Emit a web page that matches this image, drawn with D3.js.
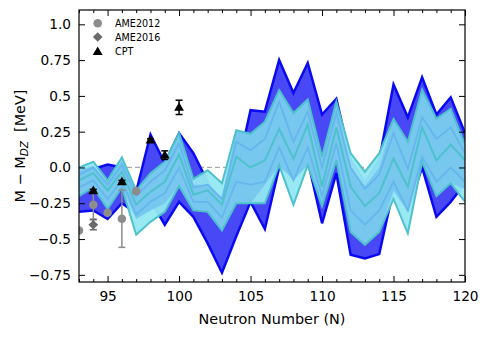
<!DOCTYPE html>
<html><head><meta charset="utf-8">
<script src="https://cdn.jsdelivr.net/npm/d3@7"></script>
<style>body{margin:0;background:#fff}svg{display:block}text{font-family:"DejaVu Sans",sans-serif}</style>
</head><body><svg id="c" width="488" height="337"></svg>
<script>
const N = [93,94,95,96,97,98,99,100,101,102,103,104,105,106,107,108,109,110,111,112,113,114,115,116,117,118,119,120];
const blueUpper = [-0.02,-0.01,0.02,0.0,-0.17,0.23,0.03,0.24,0.10,-0.10,-0.30,-0.05,0.40,0.39,0.75,0.52,0.73,0.37,0.48,0.05,-0.10,0.05,0.58,0.35,0.63,0.37,0.49,0.24];
const blueLower = [-0.31,-0.30,-0.36,-0.25,-0.32,-0.23,-0.40,-0.24,-0.345,-0.53,-0.735,-0.48,-0.24,-0.43,0.0,-0.05,0.05,-0.39,-0.04,-0.61,-0.635,-0.605,-0.15,-0.30,0.0,-0.345,-0.24,-0.11];
const cyanUpper = [0.0,0.04,-0.09,0.07,-0.16,-0.04,0.04,0.24,-0.08,-0.02,-0.11,0.26,0.235,0.32,0.54,0.38,0.475,0.075,0.46,0.10,-0.03,0.10,0.34,0.18,0.545,0.34,0.41,0.16];
const cyanLower = [-0.20,-0.14,-0.29,-0.14,-0.47,-0.38,-0.31,-0.13,-0.30,-0.31,-0.44,-0.25,-0.25,-0.25,0.016,-0.26,0.016,-0.27,0.05,-0.45,-0.54,-0.45,-0.22,-0.46,0.04,-0.20,-0.11,-0.24];
const skyUpper = [-0.02,0.01,-0.10,0.05,-0.16,-0.04,0.04,0.24,-0.12,-0.12,-0.22,0.26,0.235,0.32,0.54,0.38,0.475,0.075,0.46,0.0,-0.13,0.0,0.34,0.18,0.545,0.34,0.41,0.16];
const skyLower = [-0.20,-0.14,-0.29,-0.14,-0.36,-0.30,-0.25,-0.13,-0.30,-0.31,-0.44,-0.25,-0.25,-0.12,0.016,-0.09,0.016,-0.27,0.05,-0.45,-0.54,-0.45,-0.16,-0.30,0.04,-0.20,-0.11,-0.15];
const cyanMid = [-0.09,-0.04,-0.16,-0.03,-0.26,-0.17,-0.10,0.09,-0.19,-0.16,-0.26,0.075,0.0,0.05,0.27,0.06,0.30,-0.135,0.28,-0.135,-0.27,-0.18,0.063,-0.135,0.28,0.05,0.16,0.05];
const innerA = [-0.05,0.0,-0.12,0.02,-0.20,-0.10,-0.02,0.17,-0.14,-0.12,-0.22,0.18,0.12,0.20,0.46,0.18,0.39,0.0,0.38,0.0,-0.15,-0.05,0.24,-0.01,0.35,0.20,0.28,0.10];
const innerB = [-0.14,-0.09,-0.22,-0.09,-0.33,-0.24,-0.18,0.0,-0.24,-0.24,-0.35,-0.10,-0.12,-0.10,0.14,-0.09,0.14,-0.20,0.17,-0.30,-0.40,-0.30,-0.10,-0.30,0.075,-0.10,0.0,-0.10];

const ame12N = [93,94,95,96,97];
const ame12V = [-0.44,-0.26,-0.316,-0.358,-0.165];
const ame12E = [0.0,0.10,0.0,0.20,0.0];
const ame16N = [94];
const ame16V = [-0.40];
const ame16E = [0.035];
const cptN = [94,96,98,99,100];
const cptV = [-0.163,-0.10,0.19,0.086,0.42];
const cptE = [0.01,0.01,0.01,0.03,0.05];

const xTicks = [95,100,105,110,115,120];
const yTicks = [1.0,0.75,0.5,0.25,0.0,-0.25,-0.5,-0.75];
const yTickLabels = ["1.0","0.75","0.5","0.25","0.0","\u22120.25","\u22120.5","\u22120.75"];

const L=79,T=10,R=465,B=282;
const svg=d3.select("#c");
const x=d3.scaleLinear().domain([93,120]).range([L,R]);
const y=d3.scaleLinear().domain([-0.8,1.1]).range([B,T]);

svg.append("clipPath").attr("id","clip").append("rect").attr("x",L).attr("y",T).attr("width",R-L).attr("height",B-T);
const g=svg.append("g").attr("clip-path","url(#clip)");

g.append("line").attr("x1",L).attr("x2",R).attr("y1",y(0)).attr("y2",y(0))
 .attr("stroke","#aaa").attr("stroke-width",1.3).attr("stroke-dasharray","5,3");

const area=(up,lo)=>d3.area().x((d,i)=>x(N[i])).y0((d,i)=>y(lo[i])).y1((d,i)=>y(up[i]))(N);
const line=(arr)=>d3.line().x((d,i)=>x(N[i])).y((d,i)=>y(arr[i]))(N);

g.append("path").attr("d",area(blueUpper,blueLower)).attr("fill","#4848f6");
g.append("path").attr("d",line(blueUpper)).attr("fill","none").attr("stroke","#0a0af2").attr("stroke-width",2.5);
g.append("path").attr("d",line(blueLower)).attr("fill","none").attr("stroke","#0a0af2").attr("stroke-width",2.5);

g.append("path").attr("d",area(cyanUpper,cyanLower)).attr("fill","#94e8f2").attr("opacity",0.95);
g.append("path").attr("d",area(skyUpper,skyLower)).attr("fill","#76c6ee").attr("opacity",0.97);
g.append("path").attr("d",line(innerA)).attr("fill","none").attr("stroke","#66b6ee").attr("stroke-width",1.8);
g.append("path").attr("d",line(innerB)).attr("fill","none").attr("stroke","#66b6ee").attr("stroke-width",1.8);
[cyanUpper,cyanLower,cyanMid].forEach(a=>{
  g.append("path").attr("d",line(a)).attr("fill","none").attr("stroke","#4ec2cc").attr("stroke-width",2);
});

function ebar(nx,vv,ee,col){
  nx.forEach((n,i)=>{
    if(ee[i]<=0) return;
    const cx=x(n);
    g.append("line").attr("x1",cx).attr("x2",cx).attr("y1",y(vv[i]-ee[i])).attr("y2",y(vv[i]+ee[i])).attr("stroke",col).attr("stroke-width",1.5);
    [vv[i]-ee[i],vv[i]+ee[i]].forEach(v=>g.append("line").attr("x1",cx-3.5).attr("x2",cx+3.5).attr("y1",y(v)).attr("y2",y(v)).attr("stroke",col).attr("stroke-width",1.5));
  });
}
ebar(ame12N,ame12V,ame12E,"#8c8c8c");
g.selectAll(".a12").data(ame12N).enter().append("circle").attr("cx",d=>x(d)).attr("cy",(d,i)=>y(ame12V[i])).attr("r",4.3).attr("fill","#8c8c8c");
ebar(ame16N,ame16V,ame16E,"#6a6a6a");
const dia=d3.symbol().type(d3.symbolDiamond2).size(60);
g.selectAll(".a16").data(ame16N).enter().append("path").attr("d",dia).attr("transform",(d,i)=>`translate(${x(d)},${y(ame16V[i])})`).attr("fill","#6a6a6a");
ebar(cptN,cptV,cptE,"#000");
const tri=d3.symbol().type(d3.symbolTriangle).size(42);
g.selectAll(".cpt").data(cptN).enter().append("path").attr("d",tri).attr("transform",(d,i)=>`translate(${x(d)},${y(cptV[i])+0.5})`).attr("fill","#000");

svg.append("rect").attr("x",L).attr("y",T).attr("width",R-L).attr("height",B-T).attr("fill","none").attr("stroke","#000").attr("stroke-width",1.2);

const xAxisB=d3.axisBottom(x).tickValues(xTicks).tickSizeInner(-6).tickSizeOuter(0).tickPadding(9).tickFormat(d3.format("d"));
const gb=svg.append("g").attr("transform",`translate(0,${B})`).call(xAxisB);
const xAxisT=d3.axisTop(x).tickValues(xTicks).tickSizeInner(-6).tickSizeOuter(0).tickFormat("");
const gt=svg.append("g").attr("transform",`translate(0,${T})`).call(xAxisT);
const minor=d3.range(93,121).filter(v=>v%5!==0);
const gbm=svg.append("g").attr("transform",`translate(0,${B})`).call(d3.axisBottom(x).tickValues(minor).tickSizeInner(-3).tickSizeOuter(0).tickFormat(""));
const gtm=svg.append("g").attr("transform",`translate(0,${T})`).call(d3.axisTop(x).tickValues(minor).tickSizeInner(-3).tickSizeOuter(0).tickFormat(""));
const gl=svg.append("g").attr("transform",`translate(${L},0)`).call(d3.axisLeft(y).tickValues(yTicks).tickSizeInner(-6).tickSizeOuter(0).tickPadding(8).tickFormat((d,i)=>yTickLabels[i]));
const gr=svg.append("g").attr("transform",`translate(${R},0)`).call(d3.axisRight(y).tickValues(yTicks).tickSizeInner(-6).tickSizeOuter(0).tickFormat(""));
[gb,gt,gbm,gtm,gl,gr].forEach(a=>{a.select(".domain").remove();a.selectAll("line").attr("stroke","#000").attr("stroke-width",1);a.selectAll("text").attr("font-size","13.7px").attr("fill","#000").attr("font-family","DejaVu Sans");});

svg.append("text").attr("x",272).attr("y",323.5).attr("text-anchor","middle").attr("font-size","14.4px").text("Neutron Number (N)");
const yl=svg.append("text").attr("transform","translate(25,146) rotate(-90)").attr("text-anchor","middle").attr("font-size","14.4px").attr("xml:space","preserve");
yl.append("tspan").text("M \u2212 M");
yl.append("tspan").attr("font-size","10.5px").attr("font-style","italic").attr("dy",3).text("DZ");
yl.append("tspan").attr("dy",-3).text("  [MeV]");

const legLabels=["AME2012","AME2016","CPT"];
const legY=[23.3,37,51.7];
svg.append("circle").attr("cx",97.7).attr("cy",legY[0]).attr("r",4.3).attr("fill","#8c8c8c");
svg.append("path").attr("d",dia).attr("transform",`translate(97.7,${legY[1]})`).attr("fill","#6a6a6a");
svg.append("path").attr("d",tri).attr("transform",`translate(97.7,${legY[2]+0.5})`).attr("fill","#000");
legLabels.forEach((t,i)=>svg.append("text").attr("x",115).attr("y",legY[i]+3.5).attr("font-size","9.6px").text(t));
</script></body></html>
